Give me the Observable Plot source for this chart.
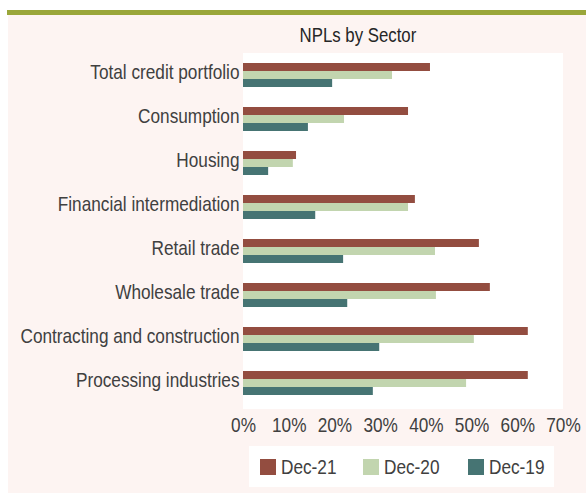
<!DOCTYPE html>
<html>
<head>
<meta charset="utf-8">
<script src="https://cdn.jsdelivr.net/npm/d3@7"></script>
<script src="https://cdn.jsdelivr.net/npm/@observablehq/plot@0.6"></script>
<style>
  body { margin: 0; background: #ffffff; }
  #wrap { position: relative; width: 586px; height: 493px; overflow: hidden; background: #ffffff;
          font-family: "Liberation Sans", Arial, sans-serif; }
  #rule { position: absolute; left: 7px; top: 10px; width: 579px; height: 5px; background: #9aa63a; }
  #panel { position: absolute; left: 8px; top: 15px; right: 0; bottom: 0; background: #fdf4f2; }
  #plotbg { position: absolute; left: 243px; top: 53px; width: 320px; height: 356px; background: #ffffff; }
  #title { position: absolute; left: 243px; width: 230px; top: 23px; text-align: center; font-size: 21px; color: #262626; line-height: 24px; }
  #title span { display: inline-block; transform: scaleX(0.8); }
  #chart { position: absolute; left: 0; top: 0; }
  #legend { position: absolute; left: 249px; top: 446px; width: 305px; height: 41px; background: #ffffff;
            font-size: 21px; color: #404040; }
  .item { display: flex; align-items: center; position: absolute; top: 12px; height: 17px; }
  .sw { width: 16px; height: 16px; margin-right: 5px; flex: none; }
  .item span { display: inline-block; transform: scaleX(0.82); transform-origin: 0 50%; white-space: nowrap; line-height: 17px; }
</style>
</head>
<body>
<div id="wrap">
  <div id="rule"></div>
  <div id="panel"></div>
  <div id="plotbg"></div>
  <div id="title"><span>NPLs by Sector</span></div>
  <div id="chart"></div>
  <div id="legend"></div>
</div>
<script>
const sectors = ["Total credit portfolio", "Consumption", "Housing", "Financial intermediation",
                 "Retail trade", "Wholesale trade", "Contracting and construction", "Processing industries"];
const series = ["Dec-21", "Dec-20", "Dec-19"];
const colors = ["#934d40", "#c2d5af", "#467473"];
const dec21 = [0.409, 0.361, 0.116, 0.376, 0.516, 0.540, 0.623, 0.623];
const dec20 = [0.326, 0.221, 0.109, 0.361, 0.420, 0.422, 0.505, 0.488];
const dec19 = [0.195, 0.142, 0.055, 0.158, 0.219, 0.228, 0.298, 0.284];
const xTicks = [0, 0.1, 0.2, 0.3, 0.4, 0.5, 0.6, 0.7];

const valuesBySeries = [dec21, dec20, dec19];
const data = [];
sectors.forEach((s, i) => series.forEach((k, j) => data.push({sector: s, series: k, value: valuesBySeries[j][i]})));

const font = "'Liberation Sans', Arial, sans-serif";
const plot = Plot.plot({
  width: 586,
  height: 493,
  marginLeft: 243,
  marginRight: 23,
  marginTop: 61,
  marginBottom: 97,
  style: { background: "transparent", fontFamily: font, color: "#404040" },
  x: { domain: [0, 0.7], label: null },
  fy: { domain: sectors, paddingInner: 0.435, paddingOuter: 0, label: null },
  y: { domain: series, padding: 0, axis: null },
  color: { domain: series, range: colors },
  marks: [
    Plot.barX(data, { fy: "sector", y: "series", x: "value", fill: "series" }),
    Plot.axisX({ ticks: xTicks, tickFormat: d3.format(".0%"), tickSize: 0, tickPadding: 22, fontSize: 21, facetAnchor: "bottom", label: null }),
    Plot.axisFy({ anchor: "left", tickSize: 0, tickPadding: 4, dy: -3, fontSize: 21, label: null })
  ]
});
document.getElementById("chart").appendChild(plot);

// Narrow the axis labels horizontally (condensed look) around their own x anchor
plot.querySelectorAll("text").forEach(t => {
  let x = parseFloat(t.getAttribute("x"));
  if (!isFinite(x)) x = 0;
  const tr = t.getAttribute("transform") || "";
  t.setAttribute("transform", `${tr} translate(${x},0) scale(0.82,1) translate(${-x},0)`.trim());
});

const legend = document.getElementById("legend");
const legendX = [11, 114, 219];
series.forEach((s, i) => {
  const it = document.createElement("div");
  it.className = "item";
  it.style.left = legendX[i] + "px";
  it.innerHTML = `<div class="sw" style="background:${colors[i]}"></div><span>${s}</span>`;
  legend.appendChild(it);
});
</script>
</body>
</html>
